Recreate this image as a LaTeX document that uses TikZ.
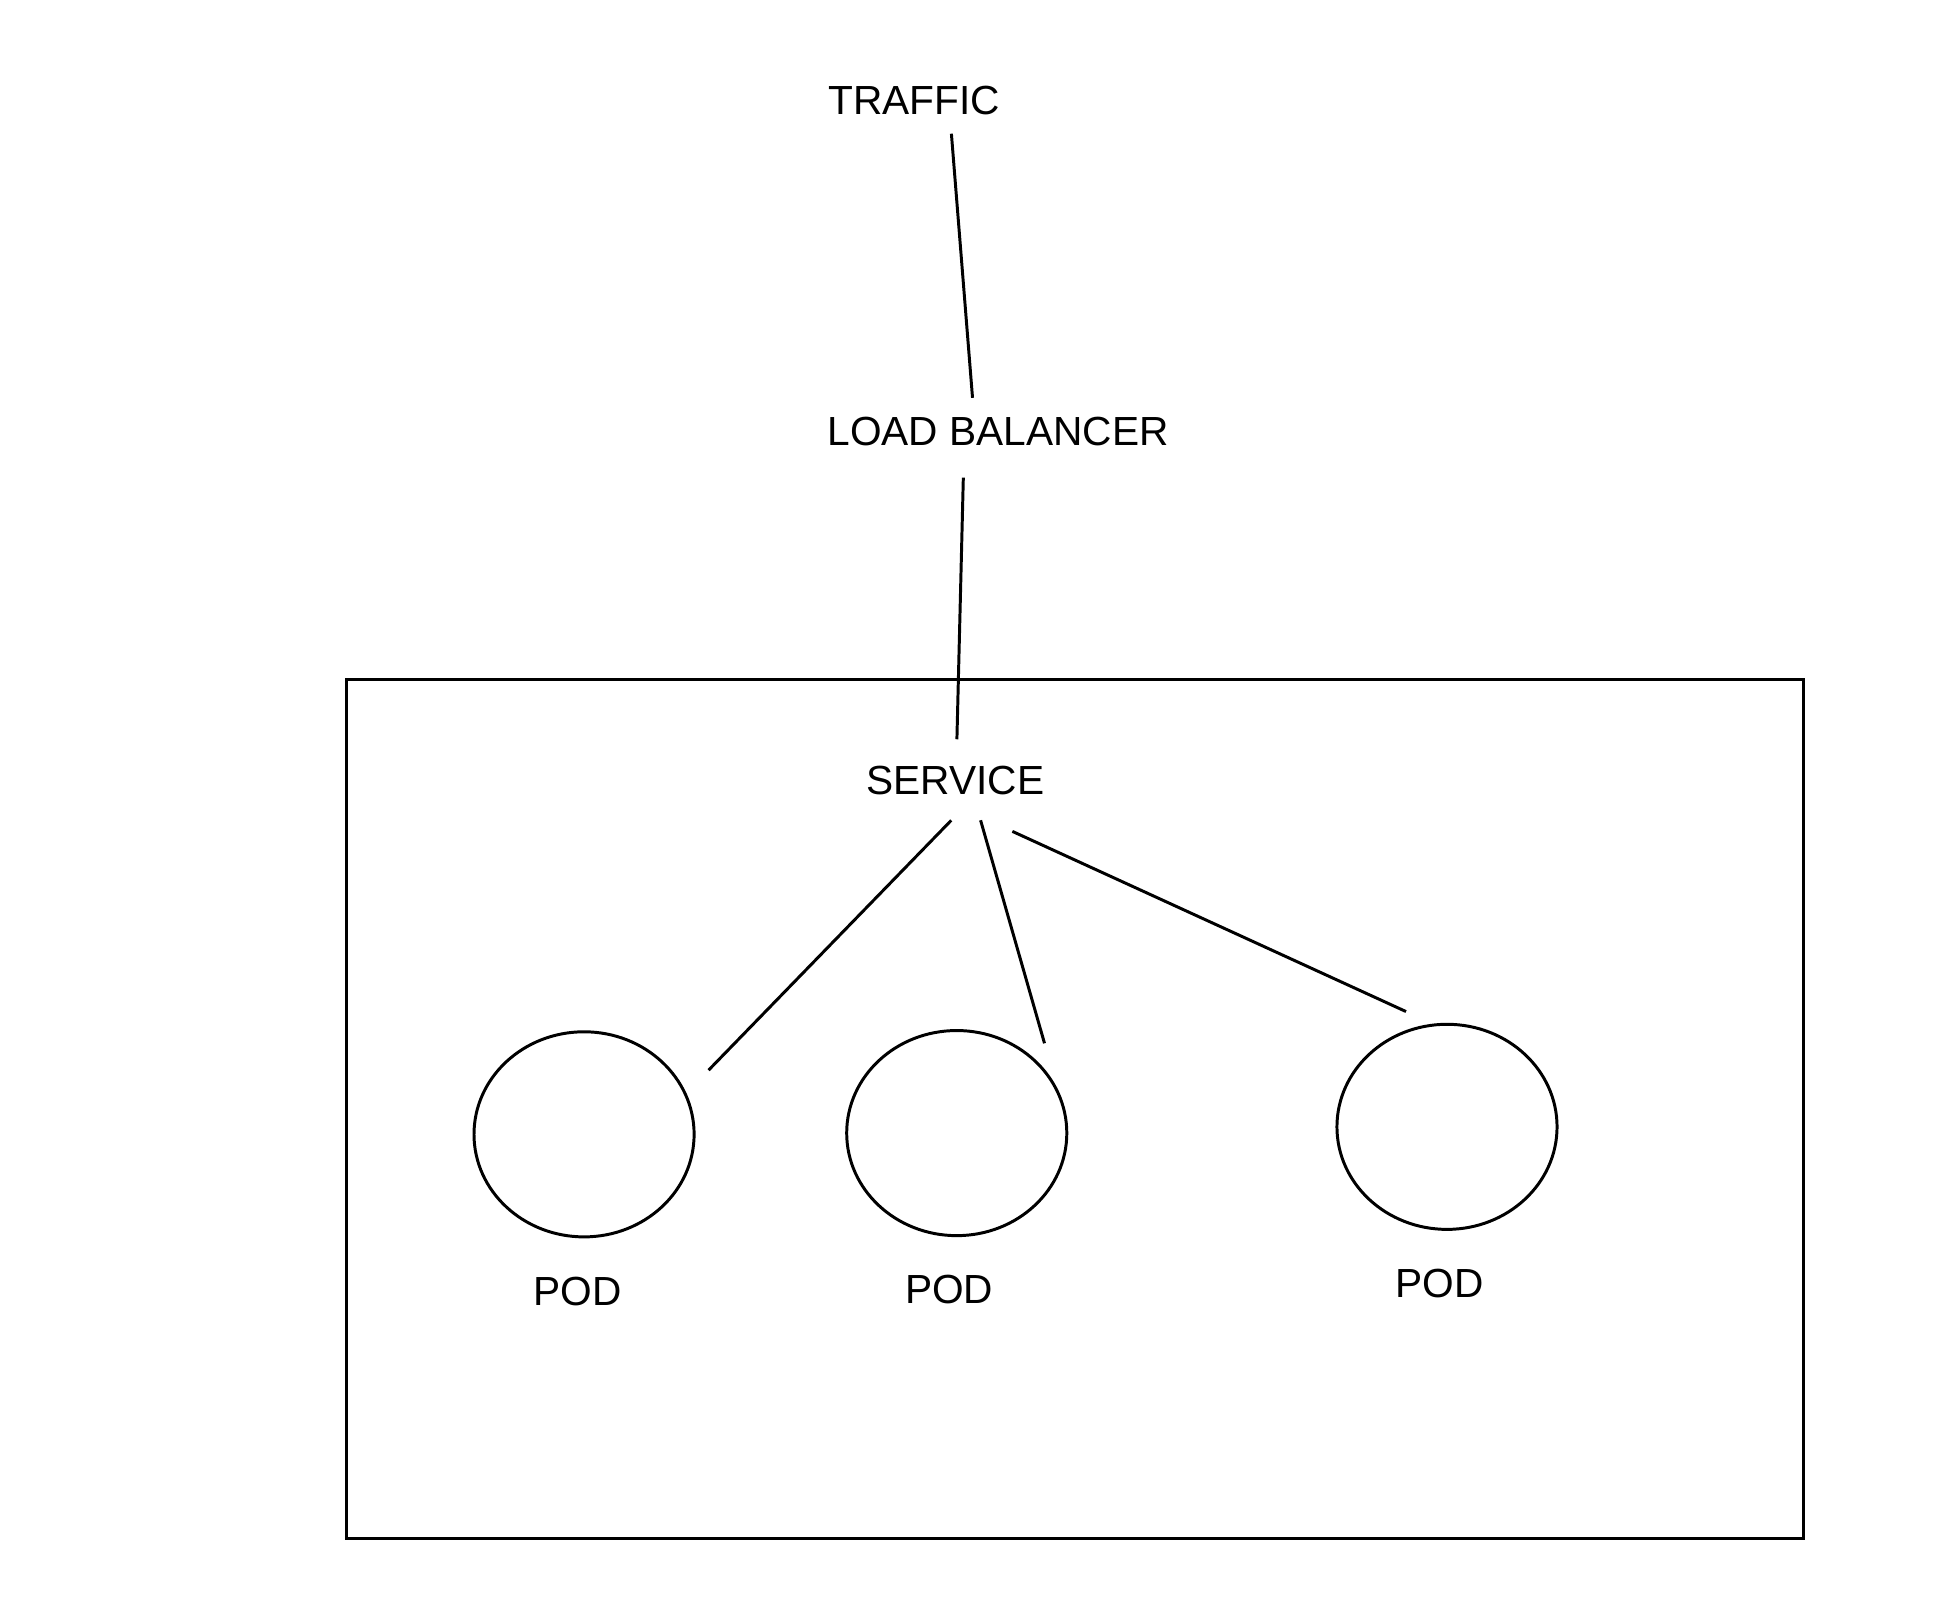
\documentclass[tikz,border=0pt]{standalone}
\usepackage{fontspec}
\setmainfont{Liberation Sans}
\usetikzlibrary{shapes.geometric}

\begin{document}
\begin{tikzpicture}[
		line width=1.35pt,
		lbl/.style={inner sep=0pt, outer sep=0pt, font=\fontsize{18.5}{22}\selectfont},
		pod/.style={draw, ellipse, inner sep=0pt, minimum width=3.52cm, minimum height=3.28cm}
		]
		\useasboundingbox (0,0) rectangle (31.12,-25.875);
		
		\draw (5.54,-10.86) rectangle (28.84,-24.60);
		
		\node[lbl] (traffic) at (14.62,-1.60) {TRAFFIC};
		\node[lbl] (lb) at (15.96,-6.90) {LOAD BALANCER};
		\node[lbl] (svc) at (15.28,-12.48) {SERVICE};
		
		\node[pod] (pod1) at (9.34,-18.14) {};
		\node[pod] (pod2) at (15.30,-18.12) {};
		\node[pod] (pod3) at (23.14,-18.02) {};
		
		\node[lbl] (pod1lbl) at (9.24,-20.66) {POD};
		\node[lbl] (pod2lbl) at (15.18,-20.62) {POD};
		\node[lbl] (pod3lbl) at (23.02,-20.52) {POD};
		
		\draw[shorten <=0.309cm, shorten >=0.309cm] (traffic.-22.6) -- (lb.149.6);
		\draw[shorten <=0.508cm, shorten >=0.428cm] (lb.-157.9) -- (svc.87);
		
		\draw[shorten <=0.571cm, shorten >=0.509cm] (svc.-35.9) -- (pod1.22.85);
		\draw[shorten <=0.424cm, shorten >=0.748cm] (svc.-39.0) -- (pod2.24.5);
		\draw[shorten <=1.406cm, shorten >=0.466cm] (svc.-148.5) -- (pod3.98.3);
		\end{tikzpicture}
\end{document}
